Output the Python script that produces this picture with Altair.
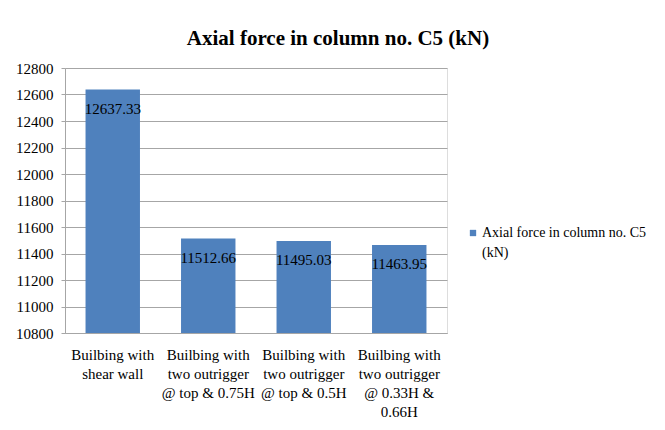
import altair as alt
import pandas as pd

categories = [
    "Builbing with shear wall",
    "Builbing with two outrigger @ top & 0.75H",
    "Builbing with two outrigger @ top & 0.5H",
    "Builbing with two outrigger @ 0.33H & 0.66H",
]
cat_lines = [
    ["Builbing with", "shear wall"],
    ["Builbing with", "two outrigger", "@ top & 0.75H"],
    ["Builbing with", "two outrigger", "@ top & 0.5H"],
    ["Builbing with", "two outrigger", "@ 0.33H &", "0.66H"],
]
values = [12637.33, 11512.66, 11495.03, 11463.95]
labels = ["12637.33", "11512.66", "11495.03", "11463.95"]
y_ticks = [10800, 11000, 11200, 11400, 11600, 11800, 12000, 12200, 12400, 12600, 12800]
series = "Axial force in column no. C5 (kN)"

df = pd.DataFrame({"cat": categories, "value": values, "label": labels, "series": [series] * 4})

label_expr = " : ".join(
    f"datum.value == '{c}' ? {lines!r}" for c, lines in zip(categories, cat_lines)
) + " : datum.value"

FONT = "Liberation Serif"
BLUE = "#4F81BD"

x = alt.X("cat:N", sort=categories, title=None,
          scale=alt.Scale(paddingInner=0.43, paddingOuter=0.215),
          axis=alt.Axis(labelAngle=0, labelExpr=label_expr, ticks=False,
                        labelPadding=14, labelFont=FONT, labelFontSize=15,
                        labelColor="black", labelLineHeight=19,
                        domainColor="#a6a6a6", labelLimit=200))

y = alt.Y("value:Q", title=None,
          scale=alt.Scale(domain=[10800, 12800], zero=False, nice=False),
          axis=alt.Axis(values=y_ticks, format="d", labelOverlap=False,
                        labelFont=FONT, labelFontSize=15, labelColor="black",
                        tickSize=4, labelPadding=8, tickColor="#a6a6a6",
                        gridColor="#a6a6a6", domainColor="#a6a6a6"))

bars = alt.Chart(df).mark_bar(color=BLUE, clip=True).encode(
    x=x,
    y=y,
    color=alt.Color("series:N", scale=alt.Scale(range=[BLUE]), title=None,
                    legend=alt.Legend(orient="none", legendX=401, legendY=158,
                                      symbolType="square", symbolSize=40,
                                      symbolStrokeWidth=0, labelOffset=2,
                                      labelFont=FONT, labelFontSize=14,
                                      labelColor="black", labelBaseline="middle",
                                      labelExpr="['Axial force in column no. C5', '(kN)']",
                                      labelLimit=300)),
)

text = alt.Chart(df).mark_text(font=FONT, fontSize=15, color="black",
                               baseline="middle", dy=19).encode(
    x=x,
    y=y,
    text="label:N",
)

chart = (bars + text).properties(
    width=382, height=265,
    autosize=alt.AutoSizeParams(type="none"),
    padding={"left": 57, "top": 60, "right": 210, "bottom": 89},
    title=alt.Title(series, font=FONT, fontSize=21, fontWeight="bold",
                    color="black", anchor="middle", dx=82, offset=12),
).configure_view(stroke=None).configure(
    background="white",
    font=FONT,
    style={"guide-label": {"lineHeight": 20, "font": FONT, "fill": "black"}},
)

chart.save("out.html", embed_options={"renderer": "svg", "actions": False})
